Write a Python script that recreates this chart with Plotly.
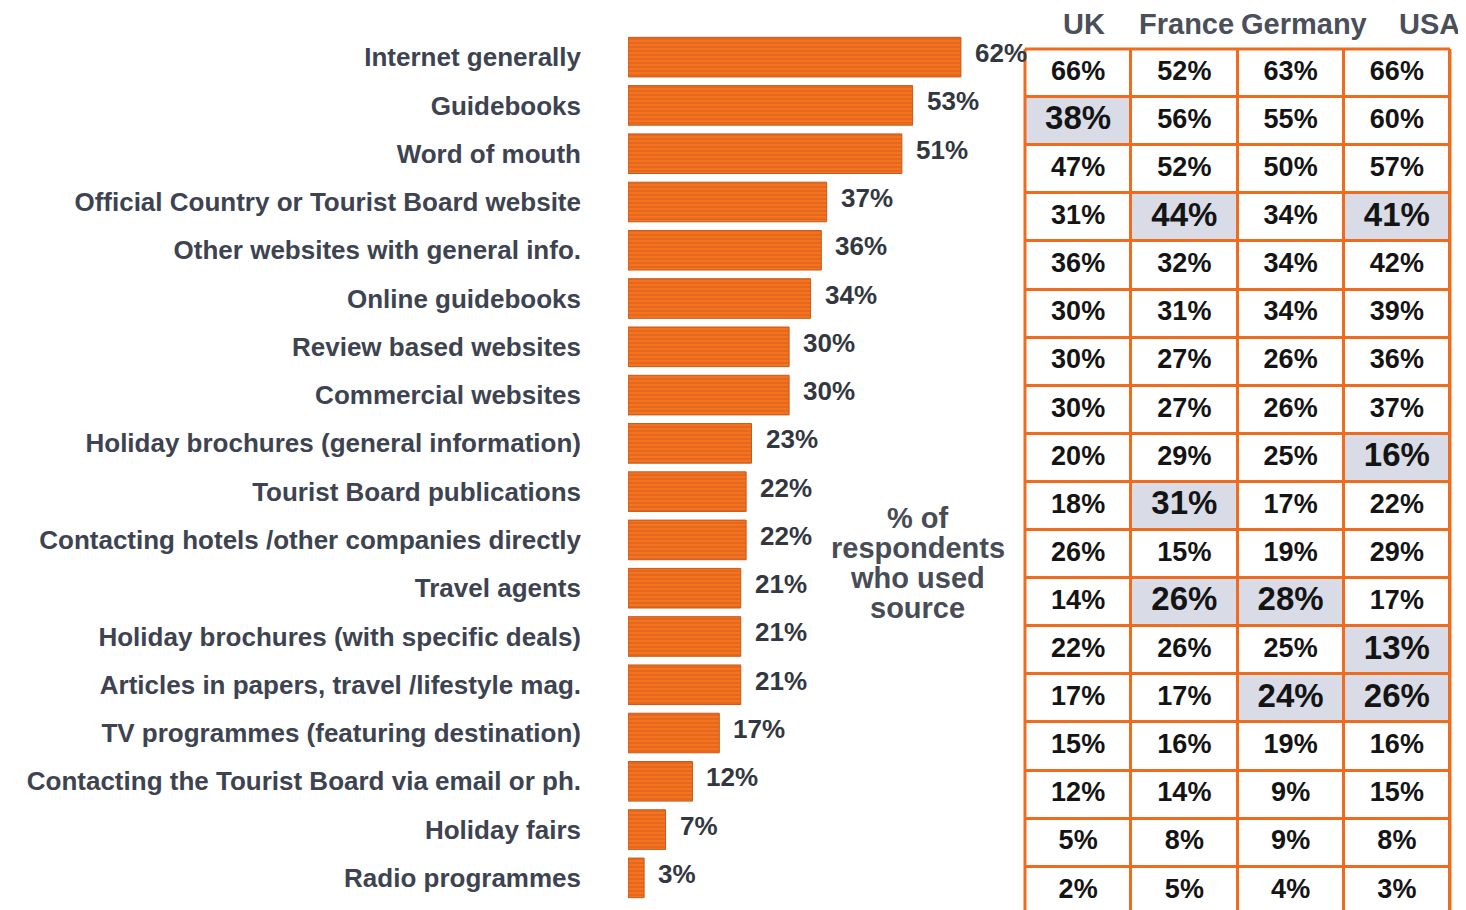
import plotly.graph_objects as go

sources = [
    "Internet generally",
    "Guidebooks",
    "Word of mouth",
    "Official Country or Tourist Board website",
    "Other websites with general info.",
    "Online guidebooks",
    "Review based websites",
    "Commercial websites",
    "Holiday brochures (general information)",
    "Tourist Board publications",
    "Contacting hotels /other companies directly",
    "Travel agents",
    "Holiday brochures (with specific deals)",
    "Articles in papers, travel /lifestyle mag.",
    "TV programmes (featuring destination)",
    "Contacting the Tourist Board via email or ph.",
    "Holiday fairs",
    "Radio programmes",
]
share = [62, 53, 51, 37, 36, 34, 30, 30, 23, 22, 22, 21, 21, 21, 17, 12, 7, 3]

countries = ["UK", "France", "Germany", "USA"]
uk      = [66, 38, 47, 31, 36, 30, 30, 30, 20, 18, 26, 14, 22, 17, 15, 12, 5, 2]
france  = [52, 56, 52, 44, 32, 31, 27, 27, 29, 31, 15, 26, 26, 17, 16, 14, 8, 5]
germany = [63, 55, 50, 34, 34, 34, 26, 26, 25, 17, 19, 28, 25, 24, 19, 9, 9, 4]
usa     = [66, 60, 57, 41, 42, 39, 36, 37, 16, 22, 29, 17, 13, 26, 16, 15, 8, 3]

hl_uk = [1]
hl_france = [3, 9, 11]
hl_germany = [11, 13]
hl_usa = [3, 8, 12, 13]

note_lines = ["% of", "respondents", "who used", "source"]

# page body has an 8px margin; the figure fills the rest of the window
OFF = 8
W, H = 1466 - OFF, 910 - OFF


def px_x(p):
    return (p - OFF) / W


def px_y(p):
    return 1 - (p - OFF) / H


FONT = "Liberation Sans"
ORANGE = "#EF6C1E"
LABEL_C = "#3D4350"

columns = [uk, france, germany, usa]
highlights = [hl_uk, hl_france, hl_germany, hl_usa]

fig = go.Figure()

# --- bar chart ---
fig.add_trace(go.Bar(
    x=share, y=sources, orientation="h",
    width=0.82,
    marker=dict(
        color="#F26A1F",
        line=dict(color="#C9581A", width=1),
        pattern=dict(shape="-", fgcolor="#B9501A", bgcolor="#F5731F",
                     size=4, solidity=0.3, fillmode="overlay"),
    ),
    hoverinfo="skip",
    xaxis="x", yaxis="y",
))

# value labels
for s, v in zip(sources, share):
    fig.add_annotation(
        x=v, y=s, xref="x", yref="y", text=f"{v}%", showarrow=False,
        xanchor="left", yanchor="middle", xshift=12, yshift=4,
        font=dict(family=FONT, size=26, color="#33373F", weight="bold"),
    )

# --- table ---
z = [[1 if r in highlights[c] else 0 for c in range(4)] for r in range(len(sources))]
fig.add_trace(go.Heatmap(
    z=z, x=countries, y=sources,
    colorscale=[[0, "#FFFFFF"], [1, "#D9DCE7"]], zmin=0, zmax=1,
    showscale=False, xgap=3, ygap=3, hoverinfo="skip",
    xaxis="x2", yaxis="y2",
))

tx, ty, tt, ts = [], [], [], []
for c, col in enumerate(columns):
    for r, val in enumerate(col):
        tx.append(countries[c])
        ty.append(sources[r])
        tt.append(f"{val}%")
        ts.append(33 if r in highlights[c] else 27)
fig.add_trace(go.Scatter(
    x=tx, y=ty, text=tt, mode="text", textposition="middle center",
    textfont=dict(family=FONT, size=ts, color="#141414", weight="bold"),
    hoverinfo="skip", xaxis="x2", yaxis="y2",
))

# headers
header_shift = [6, 2, 13, 33]
for name, sh in zip(countries, header_shift):
    fig.add_annotation(
        x=name, y=px_y(24), xref="x2", yref="paper", text=name,
        showarrow=False, xanchor="center", yanchor="middle", xshift=sh,
        font=dict(family=FONT, size=29, color="#4A4F5A", weight="bold"),
    )

# note in the middle
for i, line in enumerate(note_lines):
    fig.add_annotation(
        x=54, y=10.48, xref="x", yref="y", text=line, showarrow=False,
        xanchor="center", yanchor="middle", yshift=-(i - 1.5) * 30,
        font=dict(family=FONT, size=29, color="#474C57", weight="bold"),
    )

# table grid background and outer border
fig.add_shape(type="rect", xref="x2 domain", yref="y2 domain",
              x0=0, x1=1, y0=0, y1=1, fillcolor=ORANGE, line_width=0, layer="below")
for (x0, y0, x1, y1) in [(0, 0, 0, 1), (1, 0, 1, 1), (0, 1, 1, 1)]:
    fig.add_shape(type="line", xref="x2 domain", yref="y2 domain",
                  x0=x0, y0=y0, x1=x1, y1=y1, line=dict(color=ORANGE, width=3),
                  layer="above")

fig.update_layout(
    width=W, height=H,
    margin=dict(l=0, r=0, t=0, b=0),
    paper_bgcolor="white", plot_bgcolor="rgba(0,0,0,0)",
    showlegend=False,
    xaxis=dict(domain=[px_x(628), px_x(1020)], range=[0, 73], visible=False, fixedrange=True),
    yaxis=dict(domain=[px_y(902), px_y(33)], type="category",
               categoryorder="array", categoryarray=sources,
               range=[17.5, -0.5], showgrid=False, zeroline=False, showline=False,
               ticks="", ticklabelstandoff=46,
               tickfont=dict(family=FONT, size=26, color=LABEL_C, weight="bold")),
    xaxis2=dict(domain=[px_x(1025), px_x(1450)], type="category",
                categoryorder="array", categoryarray=countries,
                range=[-0.5, 3.5], visible=False, anchor="y2"),
    yaxis2=dict(domain=[0, px_y(49)], type="category",
                categoryorder="array", categoryarray=sources,
                range=[17.4, -0.5], visible=False, anchor="x2"),
)

fig.write_html("out.html")
